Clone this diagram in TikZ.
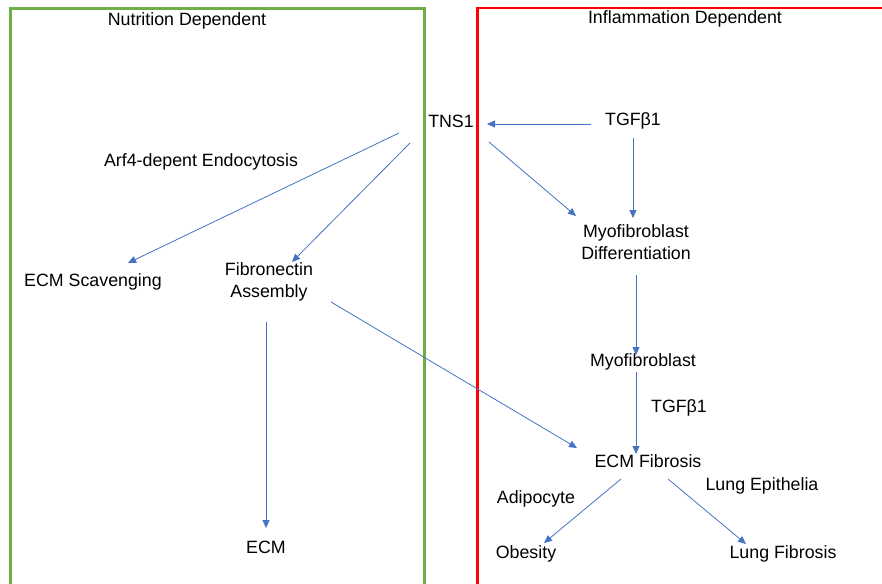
\documentclass[tikz,border=0pt]{standalone}
\usepackage{fontspec}
\setmainfont{Liberation Sans}
\usetikzlibrary{arrows.meta}
\definecolor{arrowblue}{HTML}{4472C4}
\definecolor{boxgreen}{HTML}{70AD47}
\definecolor{boxred}{HTML}{FF0000}
\tikzset{
  lbl/.style={inner sep=0pt, font=\fontsize{17.8}{22}\selectfont, align=center},
  conn/.style={draw=arrowblue, line width=0.8pt, -{Triangle[length=8pt,width=7pt]}},
  gbox/.style={draw=boxgreen, line width=2.6pt},
  rbox/.style={draw=boxred, line width=2.6pt}
}
\begin{document}
\begin{tikzpicture}[x=1pt,y=-1pt]
\useasboundingbox (0,0) rectangle (882,583);
\begin{scope}
\clip (0,0) rectangle (882,583);
\draw[gbox] (10.5,8.5) rectangle (424.5,600);
\draw[rbox] (477.5,8) rectangle (900,600);
\end{scope}

\node[lbl] (nd) at (187,21) {Nutrition Dependent};
\node[lbl] (id) at (685,19) {Inflammation Dependent};
\node[lbl] (tns) at (451,121) {TNS1};
\node[lbl] (tgf) at (633,121) {TGFβ1};
\node[lbl] (mdiff) at (636,242) {Myofibroblast\\Differentiation};
\node[lbl] (myo) at (643,362) {Myofibroblast};
\node[lbl] (tgf2) at (679,408) {TGFβ1};
\node[lbl] (ecmf) at (648,461) {ECM Fibrosis};
\node[lbl] (adi) at (536,499) {Adipocyte};
\node[lbl] (lep) at (762,486) {Lung Epithelia};
\node[lbl] (obe) at (526,554) {Obesity};
\node[lbl] (lfib) at (783,554) {Lung Fibrosis};
\node[lbl] (arf) at (201,162) {Arf4-depent Endocytosis};
\node[lbl] (scav) at (93,282) {ECM Scavenging};
\node[lbl] (fib) at (269,282) {Fibronectin\\Assembly};
\node[lbl] (ecm) at (266,547) {ECM};

% connector end points
\coordinate (tgfW) at (591,124);
\coordinate (tnsE) at (487,124);
\coordinate (tgfS) at (633,138);
\coordinate (mdiffN) at (633,218);
\coordinate (tnsSE) at (489,142);
\coordinate (mdiffNW) at (576,216);
\coordinate (mdiffS) at (636,275);
\coordinate (myoN) at (636,355);
\coordinate (myoS) at (636,372);
\coordinate (ecmfN) at (636,454);
\coordinate (fibSE) at (331,302);
\coordinate (ecmfW) at (577,448);
\coordinate (ecmfSW) at (621,479);
\coordinate (obeN) at (544,543);
\coordinate (ecmfSE) at (668,479);
\coordinate (lfibN) at (746,544);
\coordinate (tnsW1) at (399,133);
\coordinate (scavN) at (128,263);
\coordinate (tnsW2) at (410,143);
\coordinate (fibN) at (292,262);
\coordinate (fibS) at (266,322);
\coordinate (ecmN) at (266,528);

\draw[conn] (tgfW) -- (tnsE);
\draw[conn] (tgfS) -- (mdiffN);
\draw[conn] (tnsSE) -- (mdiffNW);
\draw[conn] (mdiffS) -- (myoN);
\draw[conn] (myoS) -- (ecmfN);
\draw[conn] (fibSE) -- (ecmfW);
\draw[conn] (ecmfSW) -- (obeN);
\draw[conn] (ecmfSE) -- (lfibN);
\draw[conn] (tnsW1) -- (scavN);
\draw[conn] (tnsW2) -- (fibN);
\draw[conn] (fibS) -- (ecmN);
\end{tikzpicture}
\end{document}
